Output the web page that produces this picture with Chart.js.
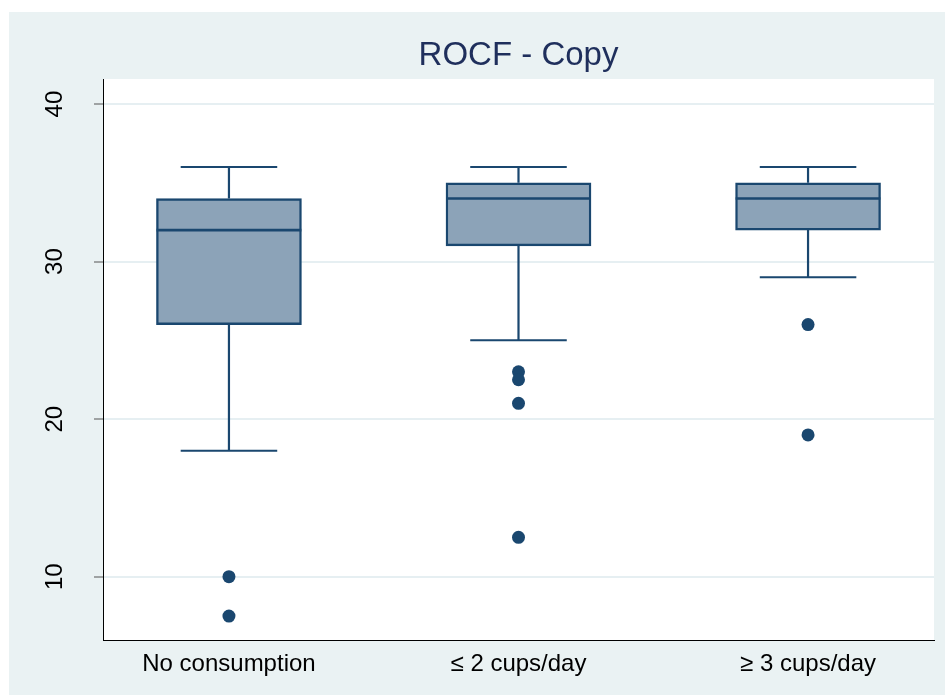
<!DOCTYPE html>
<html>
<head>
<meta charset="utf-8">
<script src="https://cdn.jsdelivr.net/npm/chart.js@4.4.1/dist/chart.umd.min.js"></script>
<style>
  html, body { margin: 0; padding: 0; background: #ffffff; }
  #wrap { position: absolute; left: 9px; top: 12px; width: 936px; height: 683px; }
  canvas { display: block; }
</style>
</head>
<body>
<div id="wrap"><canvas id="c" width="936" height="683"></canvas></div>
<script>
// ---- data ----
const chartTitle = 'ROCF - Copy';
const categories = ['No consumption', '≤ 2 cups/day', '≥ 3 cups/day'];
const positions = [1, 2, 3];
const mins = [18, 25, 29];
const q1s = [26, 31, 32];
const medians = [32, 34, 34];
const q3s = [34, 35, 35];
const maxs = [36, 36, 36];
const outliers = [[10, 7.5], [23, 22.5, 21, 12.5], [26, 19]];
const yTicks = [10, 20, 30, 40];

// ---- styling constants ----
const NAVY = '#1a476f';
const BOX_FILL = '#8ca3b8';
const BG = '#eaf2f3';
const FONT = "'Liberation Sans', Arial, Helvetica, sans-serif";
const BOX_HALF = 0.25;
const CAP_HALF = 0.1667;

// build dataset points from arrays
const medianPts = [];
const whiskerPts = [];
const capPts = [];
const outlierPts = [];
positions.forEach((p, i) => {
  medianPts.push({x: p - BOX_HALF, y: medians[i]}, {x: p + BOX_HALF, y: medians[i]}, {x: p, y: null});
  whiskerPts.push({x: p, y: q3s[i]}, {x: p, y: maxs[i]}, {x: p, y: null});
  whiskerPts.push({x: p, y: q1s[i]}, {x: p, y: mins[i]}, {x: p, y: null});
  capPts.push({x: p - CAP_HALF, y: maxs[i]}, {x: p + CAP_HALF, y: maxs[i]}, {x: p, y: null});
  capPts.push({x: p - CAP_HALF, y: mins[i]}, {x: p + CAP_HALF, y: mins[i]}, {x: p, y: null});
  outliers[i].forEach(v => outlierPts.push({x: p, y: v}));
});

const bgPlugin = {
  id: 'bgPlugin',
  beforeDraw(chart) {
    const ctx = chart.ctx;
    const a = chart.chartArea;
    ctx.save();
    ctx.fillStyle = BG;
    ctx.fillRect(0, 0, chart.width, chart.height);
    ctx.fillStyle = '#ffffff';
    ctx.fillRect(a.left, a.top, a.right - a.left, a.bottom - a.top);
    ctx.restore();
  }
};

new Chart(document.getElementById('c'), {
  type: 'bar',
  data: {
    datasets: [
      {
        type: 'bar',
        data: positions.map((p, i) => ({x: p, y: [q1s[i], q3s[i]]})),
        backgroundColor: BOX_FILL,
        borderColor: NAVY,
        borderWidth: 2.4,
        borderSkipped: false,
        barThickness: 145,
        order: 5
      },
      {
        type: 'scatter',
        data: whiskerPts,
        showLine: true,
        spanGaps: false,
        borderColor: NAVY,
        borderWidth: 2.2,
        pointRadius: 0,
        order: 4
      },
      {
        type: 'scatter',
        data: capPts,
        showLine: true,
        spanGaps: false,
        borderColor: NAVY,
        borderWidth: 2,
        pointRadius: 0,
        order: 3
      },
      {
        type: 'scatter',
        data: medianPts,
        showLine: true,
        spanGaps: false,
        borderColor: NAVY,
        borderWidth: 2.6,
        pointRadius: 0,
        order: 2
      },
      {
        type: 'scatter',
        data: outlierPts,
        showLine: false,
        pointRadius: 6.5,
        pointBackgroundColor: NAVY,
        pointBorderColor: NAVY,
        pointBorderWidth: 0,
        order: 1
      }
    ]
  },
  options: {
    responsive: false,
    animation: false,
    devicePixelRatio: 1,
    layout: { padding: { left: 0, right: 11, top: 0, bottom: 0 } },
    plugins: {
      legend: { display: false },
      tooltip: { enabled: false },
      title: {
        display: true,
        text: chartTitle,
        fullSize: false,
        color: '#1f2f5c',
        font: { family: FONT, size: 33, weight: 'normal', lineHeight: 1.2 },
        padding: { top: 24, bottom: 3.4 }
      }
    },
    scales: {
      x: {
        type: 'linear',
        offset: false,
        min: 0.565,
        max: 3.435,
        afterBuildTicks(scale) { scale.ticks = positions.map(v => ({value: v})); },
        afterFit(scale) { scale.height = 55; },
        grid: { display: false, drawTicks: false, offset: false },
        border: { display: true, color: '#000000', width: 1 },
        ticks: {
          padding: 10,
          color: '#000000',
          font: { family: FONT, size: 24 },
          maxRotation: 0,
          minRotation: 0,
          callback(value) { const k = positions.indexOf(value); return k >= 0 ? categories[k] : ''; }
        }
      },
      y: {
        type: 'linear',
        min: 5.98,
        max: 41.59,
        afterBuildTicks(scale) { scale.ticks = yTicks.map(v => ({value: v})); },
        afterFit(scale) { scale.width = 94; },
        grid: {
          display: true,
          color: '#e6eff2',
          lineWidth: 2,
          drawTicks: true,
          tickLength: 9,
          tickColor: '#555555',
          tickWidth: 1
        },
        border: { display: true, color: '#000000', width: 1 },
        ticks: {
          padding: 25,
          color: '#000000',
          font: { family: FONT, size: 24 },
          minRotation: 90,
          maxRotation: 90,
          crossAlign: 'center',
          callback(value) { return String(value); }
        }
      }
    }
  },
  plugins: [bgPlugin]
});
</script>
</body>
</html>
